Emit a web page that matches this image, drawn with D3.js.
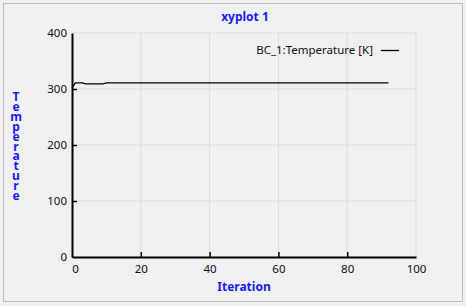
<!DOCTYPE html>
<html>
<head>
<meta charset="utf-8">
<script src="https://cdn.jsdelivr.net/npm/d3@7"></script>
<style>
  body { margin: 0; background: #eff0f2; }
  svg { display: block; font-family: "Noto Sans", "Open Sans", sans-serif; }
</style>
</head>
<body>
<svg id="chart"></svg>
<script>
// data
var iterations = [0, 1, 3, 4, 9, 10, 92];
var temperatures = [302, 311, 311, 309, 309, 311, 311];
var xTicks = [0, 20, 40, 60, 80, 100];
var yTicks = [0, 100, 200, 300, 400];
var seriesName = "BC_1:Temperature [K]";

var width = 466, height = 306;
var margin = {top: 33, right: 50, bottom: 49, left: 72};

var svg = d3.select("#chart")
    .attr("width", width)
    .attr("height", height);

svg.append("rect")
    .attr("x", 3.5).attr("y", 3.5)
    .attr("width", 459).attr("height", 298)
    .attr("fill", "#eff0f2")
    .attr("stroke", "#bdbdbd");

var x = d3.scaleLinear().domain([0, 100]).range([margin.left, width - margin.right]);
var y = d3.scaleLinear().domain([0, 400]).range([height - margin.bottom, margin.top]);

// grid
svg.append("g").selectAll("line")
    .data(xTicks.slice(1))
    .join("line")
    .attr("x1", d => x(d)).attr("x2", d => x(d))
    .attr("y1", y(0)).attr("y2", y(400))
    .attr("stroke", "#dcdcdc");
svg.append("g").selectAll("line")
    .data(yTicks.slice(1))
    .join("line")
    .attr("x1", x(0)).attr("x2", x(100))
    .attr("y1", d => y(d)).attr("y2", d => y(d))
    .attr("stroke", "#dcdcdc");

// axes (ticks point inward)
var xAxis = svg.append("g")
    .attr("transform", `translate(0,${y(0)})`)
    .call(d3.axisBottom(x).tickValues(xTicks).tickSizeInner(-5).tickSizeOuter(0).tickPadding(9));
var yAxis = svg.append("g")
    .attr("transform", `translate(${x(0)},0)`)
    .call(d3.axisLeft(y).tickValues(yTicks).tickSizeInner(-5).tickSizeOuter(0).tickPadding(5));

[xAxis, yAxis].forEach(g => {
    g.select(".domain").attr("stroke", "#000").attr("stroke-width", 2);
    g.selectAll(".tick line").attr("stroke", "#000").attr("stroke-width", 1.5);
    g.selectAll(".tick text")
        .attr("fill", "#111")
        .style("font-size", "11.5px")
        .style("font-family", "'Noto Sans', sans-serif");
});
xAxis.selectAll(".tick").filter(d => d === 0 || d === 100).select("line").remove();
yAxis.selectAll(".tick").filter(d => d === 0 || d === 400).select("line").remove();
xAxis.selectAll(".tick text").attr("dy", "0.6em");
xAxis.selectAll(".tick").filter(d => d === 0).select("text").attr("x", 3);

// series line
var line = d3.line()
    .x((d, i) => x(iterations[i]))
    .y(d => y(d));
svg.append("path")
    .datum(temperatures)
    .attr("fill", "none")
    .attr("stroke", "#000")
    .attr("stroke-width", 1.3)
    .attr("d", line);

// legend
svg.append("text")
    .attr("x", 373).attr("y", 54)
    .attr("text-anchor", "end")
    .style("font-size", "11.5px")
    .attr("fill", "#111")
    .text(seriesName);
svg.append("line")
    .attr("x1", 381).attr("x2", 399)
    .attr("y1", 50.5).attr("y2", 50.5)
    .attr("stroke", "#000").attr("stroke-width", 1.3);

// title
svg.append("text")
    .attr("x", 245).attr("y", 21)
    .attr("text-anchor", "middle")
    .style("font-size", "12px").style("font-weight", "bold")
    .attr("fill", "#1a1aef")
    .text("xyplot 1");

// x axis title
svg.append("text")
    .attr("x", 244).attr("y", 291)
    .attr("text-anchor", "middle")
    .style("font-size", "12px").style("font-weight", "bold")
    .attr("fill", "#1a1aef")
    .text("Iteration");

// y axis title, stacked letters in one text element
svg.append("text")
    .attr("y", 101)
    .attr("text-anchor", "middle")
    .style("font-size", "12px").style("font-weight", "bold")
    .attr("fill", "#1a1aef")
    .selectAll("tspan")
    .data("Temperature".split(""))
    .join("tspan")
    .attr("x", 16)
    .attr("dy", (d, i) => i === 0 ? 0 : 9.9)
    .text(d => d);
</script>
</body>
</html>
